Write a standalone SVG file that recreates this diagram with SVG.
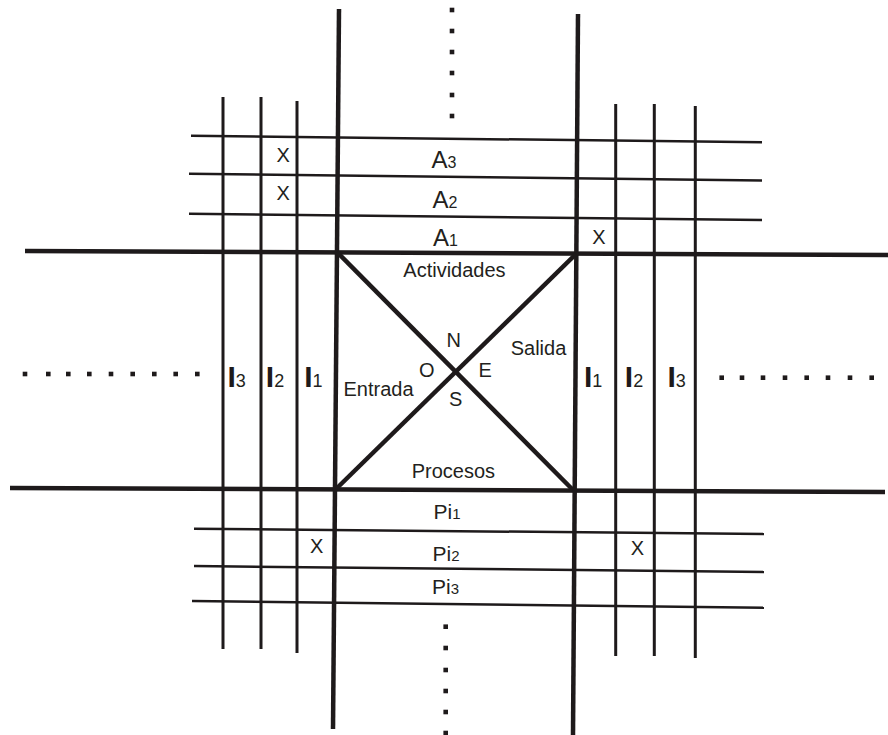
<svg xmlns="http://www.w3.org/2000/svg" width="888" height="735" viewBox="0 0 888 735">
<style>
.thick{stroke:#1e1a1b;stroke-width:4.5;fill:none;stroke-linecap:butt}
.thin{stroke:#1e1a1b;stroke-width:3;fill:none}
.hthin{stroke:#1e1a1b;stroke-width:2.5;fill:none}
.dot{fill:#1e1a1b}
text{font-family:"Liberation Sans",Arial,sans-serif;fill:#231f20}
.mid{font-size:20px}
.big{font-size:24px}
.pi{font-size:21px}
.sub{font-size:16px}
.subp{font-size:15px}
.ii{font-size:30px;font-weight:bold;fill:#1e1a1b}
.subi{font-size:18px;font-weight:normal;fill:#231f20}
</style>
<rect width="888" height="735" fill="#ffffff"/>
<g id="thin-lines">
<line class="thin" x1="223" y1="97" x2="223" y2="649"/>
<line class="thin" x1="261" y1="97" x2="261" y2="649"/>
<line class="thin" x1="297" y1="101" x2="297" y2="653"/>
<line class="thin" x1="615.7" y1="104" x2="615.7" y2="656"/>
<line class="thin" x1="654.3" y1="104" x2="654.3" y2="656"/>
<line class="thin" x1="695.3" y1="106" x2="695.3" y2="658"/>
<line class="hthin" x1="191" y1="135.7" x2="762" y2="142.3"/>
<line class="hthin" x1="189" y1="173.7" x2="762" y2="180.5"/>
<line class="hthin" x1="189" y1="213.7" x2="762" y2="220"/>
<line class="hthin" x1="194" y1="528.7" x2="764" y2="534"/>
<line class="hthin" x1="194" y1="566" x2="764" y2="572"/>
<line class="hthin" x1="192" y1="601" x2="764" y2="607.7"/>
</g>
<g id="thick-lines">
<line class="thick" x1="25" y1="251" x2="888" y2="255"/>
<line class="thick" x1="10" y1="488" x2="885" y2="492"/>
<line class="thick" x1="339" y1="9" x2="333" y2="729"/>
<line class="thick" x1="578" y1="14" x2="573" y2="735"/>
<line class="thick" x1="337" y1="252" x2="573" y2="490"/>
<line class="thick" x1="576" y1="254" x2="336" y2="489"/>
</g>
<g id="dots">
<rect class="dot" x="449.7" y="7.7" width="4.6" height="4.6"/>
<rect class="dot" x="449.7" y="28.7" width="4.6" height="4.6"/>
<rect class="dot" x="449.7" y="49.7" width="4.6" height="4.6"/>
<rect class="dot" x="449.7" y="70.7" width="4.6" height="4.6"/>
<rect class="dot" x="449.7" y="92.7" width="4.6" height="4.6"/>
<rect class="dot" x="449.7" y="113.7" width="4.6" height="4.6"/>
<rect class="dot" x="22.7" y="371.7" width="4.6" height="4.6"/>
<rect class="dot" x="46" y="371.7" width="4.6" height="4.6"/>
<rect class="dot" x="66" y="371.7" width="4.6" height="4.6"/>
<rect class="dot" x="87" y="371.7" width="4.6" height="4.6"/>
<rect class="dot" x="108.7" y="371.7" width="4.6" height="4.6"/>
<rect class="dot" x="130.4" y="371.7" width="4.6" height="4.6"/>
<rect class="dot" x="152" y="371.7" width="4.6" height="4.6"/>
<rect class="dot" x="173.4" y="371.7" width="4.6" height="4.6"/>
<rect class="dot" x="195" y="371.7" width="4.6" height="4.6"/>
<rect class="dot" x="719.4" y="375.4" width="4.6" height="4.6"/>
<rect class="dot" x="739.7" y="375.4" width="4.6" height="4.6"/>
<rect class="dot" x="760.7" y="375.4" width="4.6" height="4.6"/>
<rect class="dot" x="782.7" y="375.4" width="4.6" height="4.6"/>
<rect class="dot" x="804.4" y="375.4" width="4.6" height="4.6"/>
<rect class="dot" x="825.7" y="375.4" width="4.6" height="4.6"/>
<rect class="dot" x="847.7" y="375.4" width="4.6" height="4.6"/>
<rect class="dot" x="869.4" y="375.4" width="4.6" height="4.6"/>
<rect class="dot" x="443.4" y="624.4" width="4.6" height="4.6"/>
<rect class="dot" x="443.4" y="645.7" width="4.6" height="4.6"/>
<rect class="dot" x="443.4" y="667.7" width="4.6" height="4.6"/>
<rect class="dot" x="443.4" y="688.7" width="4.6" height="4.6"/>
<rect class="dot" x="443.4" y="709.7" width="4.6" height="4.6"/>
<rect class="dot" x="443.4" y="730.7" width="4.6" height="4.6"/>
</g>
<g id="activities">
<text x="431.5" y="167.7" class="big">A<tspan class="sub">3</tspan></text>
<text x="432.5" y="207.5" class="big">A<tspan class="sub">2</tspan></text>
<text x="433" y="246" class="big">A<tspan class="sub">1</tspan></text>
</g>
<g id="processes">
<text x="433.5" y="519.3" class="pi">Pi<tspan class="subp">1</tspan></text>
<text x="432.5" y="561" class="pi">Pi<tspan class="subp">2</tspan></text>
<text x="432" y="594" class="pi">Pi<tspan class="subp">3</tspan></text>
</g>
<g id="inputs-left">
<text x="227.5" y="386.7" class="ii">I<tspan class="subi">3</tspan></text>
<text x="265.8" y="386.7" class="ii">I<tspan class="subi">2</tspan></text>
<text x="304.2" y="386.7" class="ii">I<tspan class="subi">1</tspan></text>
</g>
<g id="inputs-right">
<text x="584" y="386.7" class="ii">I<tspan class="subi">1</tspan></text>
<text x="624.8" y="386.7" class="ii">I<tspan class="subi">2</tspan></text>
<text x="667.5" y="386.7" class="ii">I<tspan class="subi">3</tspan></text>
</g>
<g id="square-labels">
<text x="403.3" y="276.7" class="mid">Actividades</text>
<text x="343.5" y="396" class="mid">Entrada</text>
<text x="510.7" y="355" class="mid">Salida</text>
<text x="411.7" y="477.7" class="mid">Procesos</text>
<text x="446.5" y="347" class="mid">N</text>
<text x="419" y="377" class="mid">O</text>
<text x="478.5" y="377" class="mid">E</text>
<text x="449" y="406" class="mid">S</text>
</g>
<g id="marks">
<text x="276.5" y="162.3" class="mid">X</text>
<text x="276.5" y="200" class="mid">X</text>
<text x="592.3" y="244" class="mid">X</text>
<text x="310" y="552.7" class="mid">X</text>
<text x="630.7" y="555" class="mid">X</text>
</g>
</svg>
